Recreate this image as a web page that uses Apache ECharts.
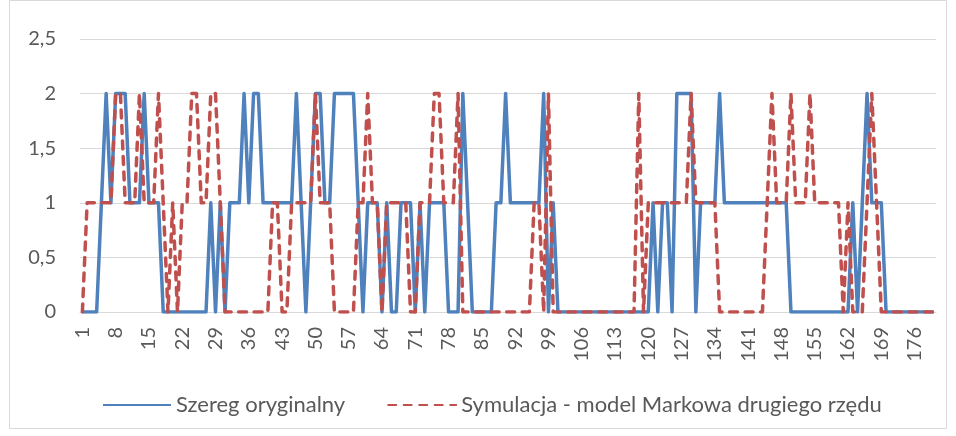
<!DOCTYPE html>
<html>
<head>
<meta charset="utf-8">
<script src="https://cdn.jsdelivr.net/npm/echarts@6/dist/echarts.min.js"></script>
<style>
html,body{margin:0;padding:0;background:#fff;}
#chart{width:956px;height:436px;}
</style>
</head>
<body>
<div id="chart"></div>
<script>
// Data
const seriesNames = ['Szereg oryginalny', 'Symulacja - model Markowa drugiego rzędu'];
const categories = [];
for (let i = 1; i <= 180; i++) categories.push(String(i));

const original = [
  0,0,0,0,1,2,1,2,2,2,
  1,1,1,2,1,1,1,0,0,0,
  0,0,0,0,0,0,0,1,0,1,
  0,1,1,1,2,1,2,2,1,1,
  1,1,1,1,1,2,1,0,1,2,
  2,1,1,2,2,2,2,2,1,0,
  1,1,1,0,1,0,0,1,1,1,
  0,1,0,1,1,1,1,0,0,0,
  2,1,0,0,0,0,0,1,1,2,
  1,1,1,1,1,1,1,2,0,1,
  0,0,0,0,0,0,0,0,0,0,
  0,0,0,0,0,0,0,0,0,0,
  1,0,1,1,0,2,2,2,2,0,
  1,1,1,1,2,1,1,1,1,1,
  1,1,1,1,1,1,1,1,1,0,
  0,0,0,0,0,0,0,0,0,0,
  0,0,1,0,1,2,1,1,1,0,
  0,0,0,0,0,0,0,0,0,0
];

const simulation = [
  0,1,1,1,1,1,1,2,2,1,
  1,1,2,1,1,1,2,1,0,1,
  0,1,1,2,2,1,1,2,2,1,
  0,0,0,0,0,0,0,0,0,0,
  1,1,0,0,1,1,1,1,1,2,
  1,1,1,0,0,0,0,0,1,1,
  2,1,1,0,1,1,1,1,1,0,
  0,1,1,1,2,2,1,1,1,2,
  0,0,0,0,0,0,0,0,0,0,
  0,0,0,0,0,1,1,0,2,0,
  0,0,0,0,0,0,0,0,0,0,
  0,0,0,0,0,0,0,2,0,1,
  1,1,1,1,1,1,1,1,2,1,
  1,1,1,1,0,0,0,0,0,0,
  0,0,0,0,1,2,1,1,1,2,
  1,1,1,2,1,1,1,1,1,1,
  0,1,0,0,0,1,2,1,0,0,
  0,0,0,0,0,0,0,0,0,0
];

const yTicks = { min: 0, max: 2.5, interval: 0.5 };

const chart = echarts.init(document.getElementById('chart'), null, { renderer: 'canvas' });
const FONT = 'Lato, "Noto Sans", sans-serif';
const option = {
  animation: false,
  backgroundColor: '#ffffff',
  graphic: [{
    type: 'rect',
    shape: { x: 9.5, y: 0.5, width: 937, height: 428 },
    style: { fill: 'none', stroke: '#d9d9d9', lineWidth: 1 },
    silent: true, z: -1
  }],
  grid: { left: 80, right: 20, top: 39, bottom: 124, containLabel: false },
  legend: {
    left: 97, top: 389,
    itemWidth: 68, itemHeight: 20, itemGap: 42,
    itemStyle: { color: 'rgba(0,0,0,0)', borderWidth: 0, opacity: 0 },
    textStyle: { fontFamily: FONT, fontSize: 22, color: '#595959', padding: [0, 0, 0, 0] },
    data: seriesNames
  },
  xAxis: {
    type: 'category',
    data: categories,
    boundaryGap: true,
    axisLine: { show: true, lineStyle: { color: '#d9d9d9', width: 1 } },
    axisTick: { show: false },
    axisLabel: {
      interval: 6, rotate: 90, margin: 15,
      fontFamily: FONT, fontSize: 20, color: '#595959'
    },
    splitLine: { show: false }
  },
  yAxis: {
    type: 'value',
    min: yTicks.min, max: yTicks.max, interval: yTicks.interval,
    axisLine: { show: false },
    axisTick: { show: false },
    axisLabel: {
      margin: 24, fontFamily: FONT, fontSize: 20, color: '#595959',
      formatter: v => String(v).replace('.', ',')
    },
    splitLine: { lineStyle: { color: '#d9d9d9', width: 1 } }
  },
  series: [
    {
      name: seriesNames[0], type: 'line', data: original,
      symbol: 'none', z: 2,
      lineStyle: { color: '#4f81bd', width: 3.5, join: 'round' },
      itemStyle: { color: '#4f81bd' }
    },
    {
      name: seriesNames[1], type: 'line', data: simulation,
      symbol: 'none', z: 3,
      lineStyle: { color: '#c0504d', width: 3.5, type: [8, 7.5], cap: 'round', join: 'round' },
      itemStyle: { color: '#c0504d' }
    }
  ]
};
chart.setOption(option);
</script>
</body>
</html>
